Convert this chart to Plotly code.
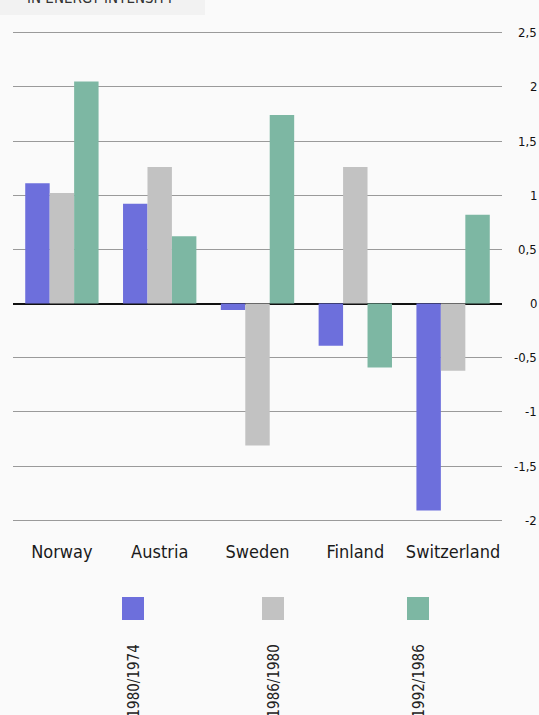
import plotly.graph_objects as go

countries = ["Norway", "Austria", "Sweden", "Finland", "Switzerland"]
series_names = ["1980/1974", "1986/1980", "1992/1986"]
v_1980_1974 = [1.11, 0.92, -0.06, -0.39, -1.91]
v_1986_1980 = [1.02, 1.26, -1.31, 1.26, -0.62]
v_1992_1986 = [2.05, 0.62, 1.74, -0.59, 0.82]
colors = ["#6d6fdc", "#c2c2c2", "#7db7a3"]
tick_vals = [2.5, 2, 1.5, 1, 0.5, 0, -0.5, -1, -1.5, -2]
tick_text = ["2,5", "2", "1,5", "1", "0,5", "0", "-0,5", "-1", "-1,5", "-2"]
title_text = "IN ENERGY INTENSITY"

FONT = "DejaVu Sans Condensed, Liberation Sans Narrow, DejaVu Sans, sans-serif"


def F(size, color="#222"):
    return dict(size=size, family=FONT, color=color)


fig = go.Figure()
for name, vals, col in zip(series_names, [v_1980_1974, v_1986_1980, v_1992_1986], colors):
    fig.add_trace(go.Bar(x=countries, y=vals, name=name, marker=dict(color=col, line=dict(width=0)),
                         showlegend=False))

W, H = 539, 715
l, r, t, b = 13, 37, 11, 184
pw = W - l - r
ph = H - t - b

fig.update_layout(
    width=W, height=H,
    margin=dict(l=l, r=r, t=t, b=b),
    paper_bgcolor="#fafafa", plot_bgcolor="#fafafa",
    barmode="group", bargap=0.25, bargroupgap=0.0,
    font=F(14),
    xaxis=dict(showgrid=False, showline=False, ticks="", tickfont=F(18, "#1a1a1a"),
               ticklabelstandoff=8),
    yaxis=dict(range=[-2.1, 2.7], tickvals=tick_vals, showticklabels=False, showgrid=True,
               gridcolor="#9a9a9a", gridwidth=1, zeroline=True, zerolinecolor="#111", zerolinewidth=2,
               showline=False, ticks=""),
)

# right-aligned y tick labels
for v, txt in zip(tick_vals, tick_text):
    fig.add_annotation(x=(539 - l) / pw, xref="paper", y=v, yref="y", text=txt, showarrow=False,
                       xanchor="right", yanchor="middle", font=F(13, "#111"))

# cut-off title at top-left
fig.add_shape(type="rect", xref="paper", yref="paper", x0=-l / pw, x1=(205 - l) / pw,
              y0=1 + (t - 15) / ph, y1=1 + t / ph + 0.01,
              fillcolor="#f2f2f2", line=dict(width=0), layer="below")
fig.add_annotation(x=(25 - l) / pw, xref="paper", y=1 + (t - 9) / ph, yref="paper",
                   text=title_text, showarrow=False, xanchor="left", yanchor="bottom",
                   font=F(15, "#333"))

# legend squares and rotated labels
leg_x = [133, 273, 418]
for name, col, xc in zip(series_names, colors, leg_x):
    x0 = (xc - 11 - l) / pw
    x1 = (xc + 11 - l) / pw
    y_top = 1 - (597 - t) / ph
    y_bot = 1 - (620 - t) / ph
    fig.add_shape(type="rect", xref="paper", yref="paper", x0=x0, x1=x1, y0=y_bot, y1=y_top,
                  fillcolor=col, line=dict(width=0))
    fig.add_annotation(x=(xc - l) / pw, xref="paper", y=1 - (643 - t) / ph, yref="paper",
                       text=name, textangle=-90, showarrow=False, xanchor="center", yanchor="top",
                       font=F(15))

fig.write_html("out.html", config={"displayModeBar": False},
               post_script="document.body.style.margin='0';document.body.style.overflow='hidden';")
